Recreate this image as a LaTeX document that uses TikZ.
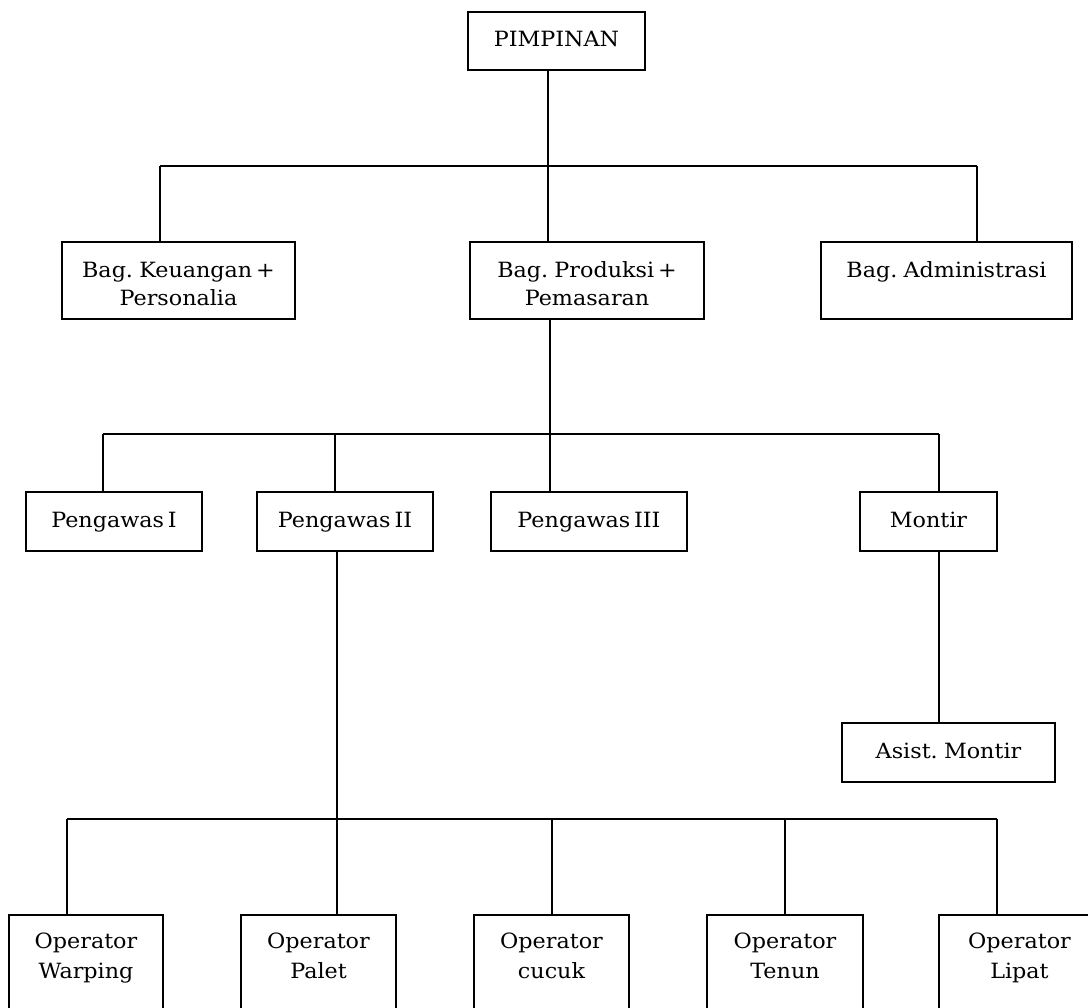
\documentclass[tikz,border=0pt]{standalone}
\usepackage{fontspec}
\setmainfont{DejaVu Serif}[FakeStretch=1.06,WordSpace=0.55]
\begin{document}
\begin{tikzpicture}[x=1pt,y=-1pt,
  box/.style={draw=black, line width=1.8pt, inner sep=0pt, fill=white},
  txt/.style={align=center, inner sep=0pt, font=\fontsize{21}{28}\selectfont},
  optxt/.style={align=center, inner sep=0pt, font=\fontsize{21}{30}\selectfont},
  conn/.style={draw=black, line width=1.4pt}]
\useasboundingbox (0,0) rectangle (1088,1008);
\clip (0,0) rectangle (1088,1008);

% level 0
\node[box, minimum width=177, minimum height=58] (pim) at (556.5,41) {};
\node[txt] (pimt) at (556.5,41.4) {PIMPINAN\strut};

% level 1
\node[box, minimum width=233, minimum height=77] (keu) at (178.5,280.5) {};
\node[txt] (keut) at (178.5,285.5) {Bag. Keuangan +\strut\\Personalia\strut};
\node[box, minimum width=234, minimum height=77] (pro) at (587,280.5) {};
\node[txt] (prot) at (587,285.5) {Bag. Produksi +\strut\\Pemasaran\strut};
\node[box, minimum width=251, minimum height=77] (adm) at (946.5,280.5) {};
\node[txt] (admt) at (946.5,272.4) {Bag. Administrasi\strut};

% level 2
\node[box, minimum width=176, minimum height=59] (pg1) at (114,521.5) {};
\node[txt] (pg1t) at (114,521.4) {Pengawas I\strut};
\node[box, minimum width=176, minimum height=59] (pg2) at (345,521.5) {};
\node[txt] (pg2t) at (345,521.4) {Pengawas II\strut};
\node[box, minimum width=196, minimum height=59] (pg3) at (589,521.5) {};
\node[txt] (pg3t) at (589,521.4) {Pengawas III\strut};
\node[box, minimum width=137, minimum height=59] (mon) at (928.5,521.5) {};
\node[txt] (mont) at (928.5,521.4) {Montir\strut};

\node[box, minimum width=213, minimum height=59] (asm) at (948.5,752.5) {};
\node[txt] (asmt) at (948.5,752.4) {Asist. Montir\strut};

% level 3 (operators, cut by the lower edge)
\node[box, minimum width=154, minimum height=150] (o1) at (86,990) {};
\node[optxt] (o1t) at (86,957) {Operator\strut\\Warping\strut};
\node[box, minimum width=155, minimum height=150] (o2) at (318.5,990) {};
\node[optxt] (o2t) at (318.5,957) {Operator\strut\\Palet\strut};
\node[box, minimum width=155, minimum height=150] (o3) at (551.5,990) {};
\node[optxt] (o3t) at (551.5,957) {Operator\strut\\cucuk\strut};
\node[box, minimum width=156, minimum height=150] (o4) at (785,990) {};
\node[optxt] (o4t) at (785,957) {Operator\strut\\Tenun\strut};
\node[box, minimum width=161, minimum height=150] (o5) at (1019.5,990) {};
\node[optxt] (o5t) at (1019.5,957) {Operator\strut\\Lipat\strut};

% connectors level 0 -> 1
\coordinate (a) at (548,166);
\coordinate (al) at (160,166);
\coordinate (ar) at (977,166);
\draw[conn] (pim.south -| a) -- (a);
\draw[conn] (al) -- (ar);
\draw[conn] (al) -- (al |- keu.north);
\draw[conn] (a) -- (a |- pro.north);
\draw[conn] (ar) -- (ar |- adm.north);

% connectors 1 -> 2
\coordinate (b) at (550,434);
\coordinate (bl) at (103,434);
\coordinate (b2) at (335,434);
\coordinate (br) at (939,434);
\draw[conn] (pro.south -| b) -- (b);
\draw[conn] (bl) -- (br);
\draw[conn] (bl) -- (bl |- pg1.north);
\draw[conn] (b2) -- (b2 |- pg2.north);
\draw[conn] (b) -- (b |- pg3.north);
\draw[conn] (br) -- (br |- mon.north);

% Montir -> Asist. Montir
\coordinate (m) at (939,600);
\draw[conn] (mon.south -| m) -- (m |- asm.north);

% Pengawas II -> operators
\coordinate (c) at (337,819);
\coordinate (cl) at (67,819);
\coordinate (c3) at (552,819);
\coordinate (c4) at (785,819);
\coordinate (cr) at (997,819);
\draw[conn] (pg2.south -| c) -- (c);
\draw[conn] (cl) -- (cr);
\draw[conn] (cl) -- (cl |- o1.north);
\draw[conn] (c) -- (c |- o2.north);
\draw[conn] (c3) -- (c3 |- o3.north);
\draw[conn] (c4) -- (c4 |- o4.north);
\draw[conn] (cr) -- (cr |- o5.north);
\end{tikzpicture}
\end{document}
